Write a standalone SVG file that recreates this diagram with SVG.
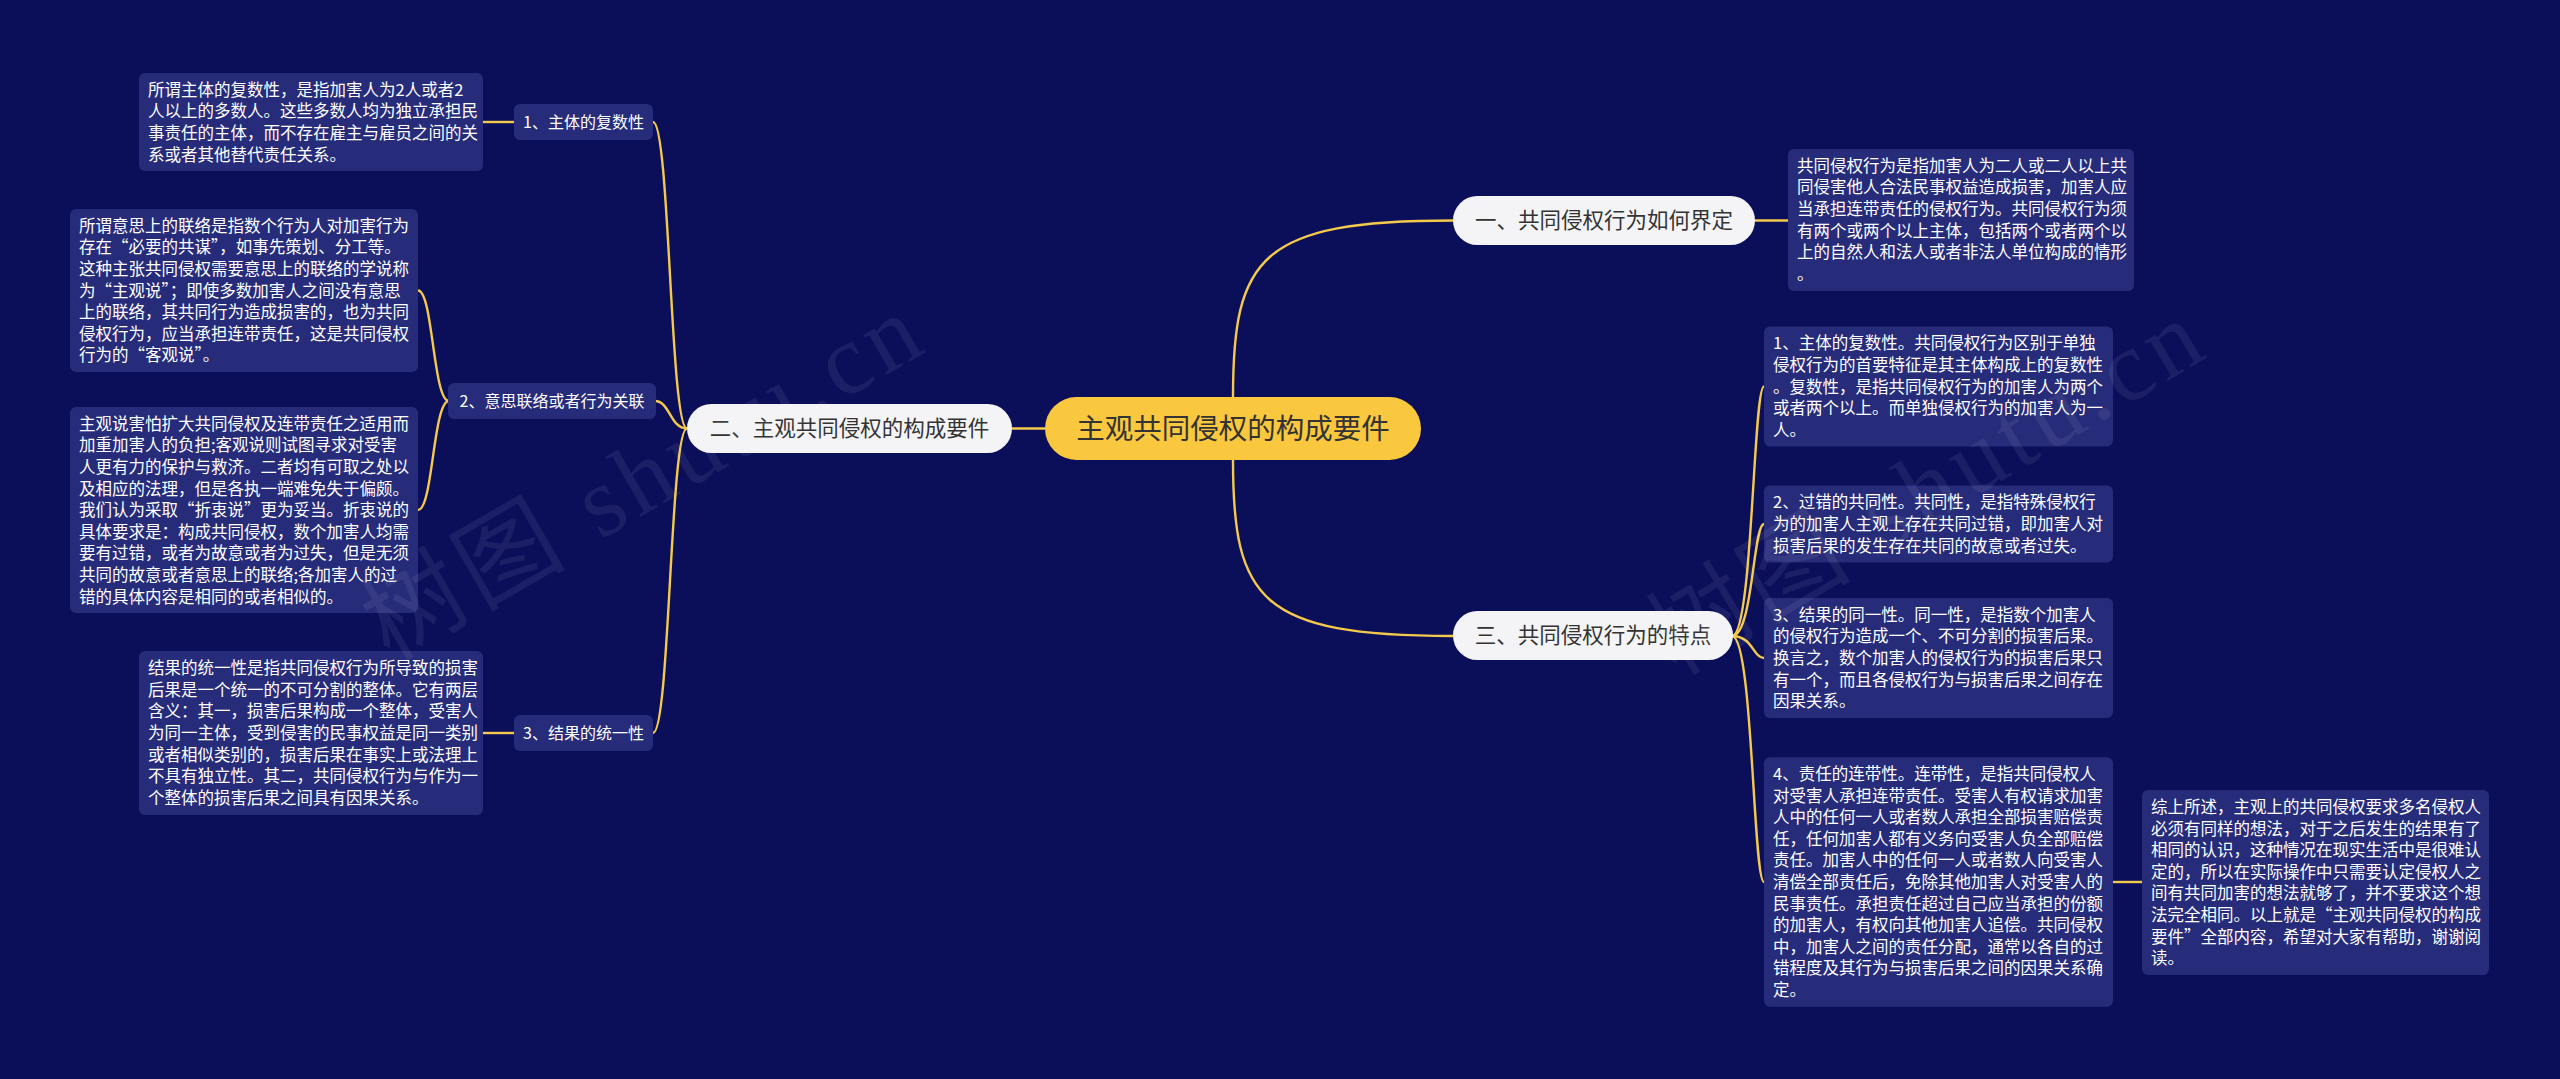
<svg xmlns="http://www.w3.org/2000/svg" width="2560" height="1079" viewBox="0 0 2560 1079">
<style>
.bg{fill:#0b0f5a}
.box{fill:#272c7a}
.t{font-family:"Noto Sans CJK SC","Noto Sans",sans-serif;font-size:16.5px;fill:#ffffff}
.nt{font-family:"Noto Sans CJK SC","Noto Sans",sans-serif;font-size:16px;fill:#ffffff;text-anchor:middle}
.l1{fill:#f4f4f6}
.l1t{font-family:"Noto Sans CJK SC","Noto Sans",sans-serif;font-size:21.5px;fill:#333333;text-anchor:middle}
.root{fill:#fac83e}
.roott{font-family:"Noto Sans CJK SC","Noto Sans",sans-serif;font-size:28.5px;fill:#333333;text-anchor:middle}
.edge{fill:none;stroke:#f5c94c;stroke-width:2.4}
.wm{font-family:"Liberation Serif","Noto Sans CJK SC",serif;font-size:100px;fill:#ffffff;fill-opacity:0.07;text-anchor:middle;letter-spacing:6px}
</style>
<rect class="bg" x="0" y="0" width="2560" height="1079"/>
<g id="connectors">
<path class="edge" d="M1045 428.5 L1012 428.5"/>
<path class="edge" d="M1233 397 C1233 257 1260 220.5 1453 220.5"/>
<path class="edge" d="M1233 460 C1233 600 1260 636 1453 636"/>
<path class="edge" d="M1755 220.5 L1788 220.5"/>
<path class="edge" d="M1732 636 C1753 636 1753 386.5 1764 386.5"/>
<path class="edge" d="M1732 636 C1753 636 1753 524 1764 524"/>
<path class="edge" d="M1732 636 C1753 636 1753 658 1764 658"/>
<path class="edge" d="M1732 636 C1753 636 1753 882 1764 882"/>
<path class="edge" d="M2113 882 L2142 882"/>
<path class="edge" d="M687 428.5 C670 428.5 670 122 653 122"/>
<path class="edge" d="M687 428.5 C670 428.5 670 401 655 401"/>
<path class="edge" d="M687 428.5 C670 428.5 670 733 653 733"/>
<path class="edge" d="M449 401 C433 401 433 290.5 418 290.5"/>
<path class="edge" d="M449 401 C433 401 433 510 418 510"/>
<path class="edge" d="M483 122 L514 122"/>
<path class="edge" d="M483 733 L514 733"/>
</g>
<g id="root">
<rect class="root" x="1045" y="397" width="376" height="63" rx="31.5"/>
<text class="roott" x="1233" y="438.5">主观共同侵权的构成要件</text>
</g>
<g id="n-one">
<rect class="l1" x="1453" y="196" width="302" height="49" rx="24.5"/>
<text class="l1t" x="1604" y="228">一、共同侵权行为如何界定</text>
</g>
<g id="n-two">
<rect class="l1" x="687" y="404" width="325" height="49" rx="24.5"/>
<text class="l1t" x="849.5" y="436">二、主观共同侵权的构成要件</text>
</g>
<g id="n-three">
<rect class="l1" x="1453" y="611" width="280" height="49" rx="24.5"/>
<text class="l1t" x="1593" y="643">三、共同侵权行为的特点</text>
</g>
<g id="n-2-1">
<rect class="box" x="514" y="104" width="139" height="36" rx="6"/>
<text class="nt" x="583.5" y="127.8">1、主体的复数性</text>
</g>
<g id="n-2-2">
<rect class="box" x="448" y="383" width="208" height="36" rx="6"/>
<text class="nt" x="552" y="406.8">2、意思联络或者行为关联</text>
</g>
<g id="n-2-3">
<rect class="box" x="514" y="715" width="139" height="36" rx="6"/>
<text class="nt" x="583.5" y="738.8">3、结果的统一性</text>
</g>
<g id="d-2-1">
<rect class="box" x="139" y="73" width="344" height="98" rx="6"/>
<text class="t"><tspan x="148" y="95.8">所谓主体的复数性，是指加害人为2人或者2</tspan><tspan x="148" y="117.4">人以上的多数人。这些多数人均为独立承担民</tspan><tspan x="148" y="139">事责任的主体，而不存在雇主与雇员之间的关</tspan><tspan x="148" y="160.6">系或者其他替代责任关系。</tspan></text>
</g>
<g id="d-2-2a">
<rect class="box" x="70" y="209" width="348" height="163" rx="6"/>
<text class="t"><tspan x="79" y="231.8">所谓意思上的联络是指数个行为人对加害行为</tspan><tspan x="79" y="253.4">存在“必要的共谋”，如事先策划、分工等。</tspan><tspan x="79" y="275">这种主张共同侵权需要意思上的联络的学说称</tspan><tspan x="79" y="296.6">为“主观说”；即使多数加害人之间没有意思</tspan><tspan x="79" y="318.2">上的联络，其共同行为造成损害的，也为共同</tspan><tspan x="79" y="339.8">侵权行为，应当承担连带责任，这是共同侵权</tspan><tspan x="79" y="361.4">行为的“客观说”。</tspan></text>
</g>
<g id="d-2-2b">
<rect class="box" x="70" y="407" width="348" height="206" rx="6"/>
<text class="t"><tspan x="79" y="429.8">主观说害怕扩大共同侵权及连带责任之适用而</tspan><tspan x="79" y="451.4">加重加害人的负担;客观说则试图寻求对受害</tspan><tspan x="79" y="473">人更有力的保护与救济。二者均有可取之处以</tspan><tspan x="79" y="494.6">及相应的法理，但是各执一端难免失于偏颇。</tspan><tspan x="79" y="516.2">我们认为采取“折衷说”更为妥当。折衷说的</tspan><tspan x="79" y="537.8">具体要求是：构成共同侵权，数个加害人均需</tspan><tspan x="79" y="559.4">要有过错，或者为故意或者为过失，但是无须</tspan><tspan x="79" y="581">共同的故意或者意思上的联络;各加害人的过</tspan><tspan x="79" y="602.6">错的具体内容是相同的或者相似的。</tspan></text>
</g>
<g id="d-2-3">
<rect class="box" x="139" y="651" width="344" height="164" rx="6"/>
<text class="t"><tspan x="148" y="674.2">结果的统一性是指共同侵权行为所导致的损害</tspan><tspan x="148" y="695.8">后果是一个统一的不可分割的整体。它有两层</tspan><tspan x="148" y="717.4">含义：其一，损害后果构成一个整体，受害人</tspan><tspan x="148" y="739">为同一主体，受到侵害的民事权益是同一类别</tspan><tspan x="148" y="760.6">或者相似类别的，损害后果在事实上或法理上</tspan><tspan x="148" y="782.2">不具有独立性。其二，共同侵权行为与作为一</tspan><tspan x="148" y="803.8">个整体的损害后果之间具有因果关系。</tspan></text>
</g>
<g id="d-1">
<rect class="box" x="1788" y="149" width="346" height="142" rx="6"/>
<text class="t"><tspan x="1797" y="171.8">共同侵权行为是指加害人为二人或二人以上共</tspan><tspan x="1797" y="193.4">同侵害他人合法民事权益造成损害，加害人应</tspan><tspan x="1797" y="215">当承担连带责任的侵权行为。共同侵权行为须</tspan><tspan x="1797" y="236.6">有两个或两个以上主体，包括两个或者两个以</tspan><tspan x="1797" y="258.2">上的自然人和法人或者非法人单位构成的情形</tspan><tspan x="1797" y="279.8">。</tspan></text>
</g>
<g id="d-3-1">
<rect class="box" x="1764" y="326.5" width="349" height="120" rx="6"/>
<text class="t"><tspan x="1773" y="349.3">1、主体的复数性。共同侵权行为区别于单独</tspan><tspan x="1773" y="370.9">侵权行为的首要特征是其主体构成上的复数性</tspan><tspan x="1773" y="392.5">。复数性，是指共同侵权行为的加害人为两个</tspan><tspan x="1773" y="414.1">或者两个以上。而单独侵权行为的加害人为一</tspan><tspan x="1773" y="435.7">人。</tspan></text>
</g>
<g id="d-3-2">
<rect class="box" x="1764" y="485.6" width="349" height="77" rx="6"/>
<text class="t"><tspan x="1773" y="508.4">2、过错的共同性。共同性，是指特殊侵权行</tspan><tspan x="1773" y="530">为的加害人主观上存在共同过错，即加害人对</tspan><tspan x="1773" y="551.6">损害后果的发生存在共同的故意或者过失。</tspan></text>
</g>
<g id="d-3-3">
<rect class="box" x="1764" y="598" width="349" height="120" rx="6"/>
<text class="t"><tspan x="1773" y="620.8">3、结果的同一性。同一性，是指数个加害人</tspan><tspan x="1773" y="642.4">的侵权行为造成一个、不可分割的损害后果。</tspan><tspan x="1773" y="664">换言之，数个加害人的侵权行为的损害后果只</tspan><tspan x="1773" y="685.6">有一个，而且各侵权行为与损害后果之间存在</tspan><tspan x="1773" y="707.2">因果关系。</tspan></text>
</g>
<g id="d-3-4">
<rect class="box" x="1764" y="757.2" width="349" height="249.6" rx="6"/>
<text class="t"><tspan x="1773" y="780">4、责任的连带性。连带性，是指共同侵权人</tspan><tspan x="1773" y="801.6">对受害人承担连带责任。受害人有权请求加害</tspan><tspan x="1773" y="823.2">人中的任何一人或者数人承担全部损害赔偿责</tspan><tspan x="1773" y="844.8">任，任何加害人都有义务向受害人负全部赔偿</tspan><tspan x="1773" y="866.4">责任。加害人中的任何一人或者数人向受害人</tspan><tspan x="1773" y="888">清偿全部责任后，免除其他加害人对受害人的</tspan><tspan x="1773" y="909.6">民事责任。承担责任超过自己应当承担的份额</tspan><tspan x="1773" y="931.2">的加害人，有权向其他加害人追偿。共同侵权</tspan><tspan x="1773" y="952.8">中，加害人之间的责任分配，通常以各自的过</tspan><tspan x="1773" y="974.4">错程度及其行为与损害后果之间的因果关系确</tspan><tspan x="1773" y="996">定。</tspan></text>
</g>
<g id="d-3-4-1">
<rect class="box" x="2142" y="790" width="347" height="185" rx="6"/>
<text class="t"><tspan x="2151" y="812.9">综上所述，主观上的共同侵权要求多名侵权人</tspan><tspan x="2151" y="834.5">必须有同样的想法，对于之后发生的结果有了</tspan><tspan x="2151" y="856.1">相同的认识，这种情况在现实生活中是很难认</tspan><tspan x="2151" y="877.7">定的，所以在实际操作中只需要认定侵权人之</tspan><tspan x="2151" y="899.3">间有共同加害的想法就够了，并不要求这个想</tspan><tspan x="2151" y="920.9">法完全相同。以上就是“主观共同侵权的构成</tspan><tspan x="2151" y="942.5">要件”全部内容，希望对大家有帮助，谢谢阅</tspan><tspan x="2151" y="964.1">读。</tspan></text>
</g>
<g id="watermarks">
<text class="wm" transform="translate(661 505) rotate(-30)">树图 shutu.cn</text>
<text class="wm" transform="translate(1945 515) rotate(-31)">树图 shutu.cn</text>
</g>
</svg>
